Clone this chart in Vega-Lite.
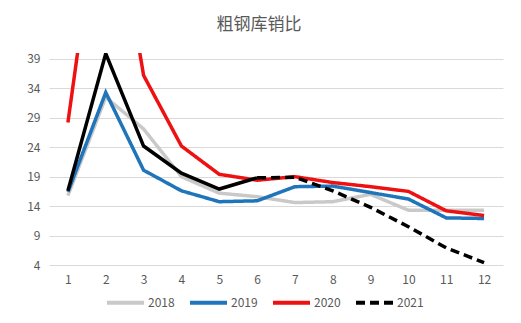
{
  "$schema": "https://vega.github.io/schema/vega-lite/v6.json",
  "width": 454,
  "height": 212,
  "autosize": {"type": "none"},
  "padding": {"left": 49, "top": 53, "right": 18, "bottom": 58},
  "background": "white",
  "title": {"text": "粗钢库销比", "anchor": "middle", "frame": "group", "dx": -17, "offset": 19, "fontSize": 17, "font": "Noto Sans CJK SC", "fontWeight": "normal", "color": "#595959"},
  "config": {"view": {"stroke": null}, "font": "Noto Sans CJK SC"},
  "data": {"values": [
    {"m": 1, "s": "2018", "v": 15.8}, {"m": 2, "s": "2018", "v": 32.5}, {"m": 3, "s": "2018", "v": 27.1}, {"m": 4, "s": "2018", "v": 19.0}, {"m": 5, "s": "2018", "v": 16.2}, {"m": 6, "s": "2018", "v": 15.6}, {"m": 7, "s": "2018", "v": 14.6}, {"m": 8, "s": "2018", "v": 14.75}, {"m": 9, "s": "2018", "v": 16.0}, {"m": 10, "s": "2018", "v": 13.3}, {"m": 11, "s": "2018", "v": 13.3}, {"m": 12, "s": "2018", "v": 13.3},
    {"m": 1, "s": "2019", "v": 16.4}, {"m": 2, "s": "2019", "v": 33.3}, {"m": 3, "s": "2019", "v": 20.1}, {"m": 4, "s": "2019", "v": 16.6}, {"m": 5, "s": "2019", "v": 14.75}, {"m": 6, "s": "2019", "v": 14.9}, {"m": 7, "s": "2019", "v": 17.3}, {"m": 8, "s": "2019", "v": 17.4}, {"m": 9, "s": "2019", "v": 16.3}, {"m": 10, "s": "2019", "v": 15.2}, {"m": 11, "s": "2019", "v": 12.0}, {"m": 12, "s": "2019", "v": 11.9},
    {"m": 1, "s": "2020", "v": 28.2}, {"m": 2, "s": "2020", "v": 74.5}, {"m": 3, "s": "2020", "v": 36.2}, {"m": 4, "s": "2020", "v": 24.2}, {"m": 5, "s": "2020", "v": 19.4}, {"m": 6, "s": "2020", "v": 18.4}, {"m": 7, "s": "2020", "v": 19.0}, {"m": 8, "s": "2020", "v": 18.0}, {"m": 9, "s": "2020", "v": 17.3}, {"m": 10, "s": "2020", "v": 16.5}, {"m": 11, "s": "2020", "v": 13.2}, {"m": 12, "s": "2020", "v": 12.4},
    {"m": 6, "s": "2021", "v": 18.8}, {"m": 7, "s": "2021", "v": 18.9}, {"m": 8, "s": "2021", "v": 16.6}, {"m": 9, "s": "2021", "v": 13.8}, {"m": 10, "s": "2021", "v": 10.5}, {"m": 11, "s": "2021", "v": 6.9}, {"m": 12, "s": "2021", "v": 4.4},
    {"m": 1, "s": "2021a", "v": 16.6}, {"m": 2, "s": "2021a", "v": 39.9}, {"m": 3, "s": "2021a", "v": 24.2}, {"m": 4, "s": "2021a", "v": 19.6}, {"m": 5, "s": "2021a", "v": 16.9}, {"m": 6, "s": "2021a", "v": 18.8}
  ]},
  "encoding": {
    "x": {"field": "m", "type": "ordinal", "scale": {"type": "point", "padding": 0.5},
      "axis": {"title": null, "labelAngle": 0, "domain": false, "ticks": false, "grid": false, "labelPadding": 9, "labelColor": "#595959", "labelFontSize": 12}},
    "y": {"field": "v", "type": "quantitative", "scale": {"domain": [4, 40], "nice": false, "zero": false},
      "axis": {"title": null, "values": [4, 9, 14, 19, 24, 29, 34, 39], "domain": false, "ticks": false, "labelPadding": 9, "labelColor": "#595959", "labelFontSize": 12, "gridColor": "#D9D9D9", "gridWidth": 1}}
  },
  "layer": [
    {
      "transform": [{"filter": "datum.s !== '2021a'"}],
      "mark": {"type": "line", "strokeWidth": 3.5, "clip": true, "strokeCap": "butt"},
      "encoding": {
        "color": {"field": "s", "type": "nominal", "scale": {"domain": ["2018", "2019", "2020", "2021"], "range": ["#C9C9C9", "#1F74BA", "#EE1111", "#000000"]},
          "legend": {"title": null, "orient": "none", "legendX": 56, "legendY": 229, "direction": "horizontal", "symbolType": "stroke", "symbolSize": 1369, "symbolStrokeWidth": 4, "labelFontSize": 12, "labelColor": "#595959", "columnPadding": 7, "labelOffset": 2}},
        "strokeDash": {"field": "s", "type": "nominal", "scale": {"domain": ["2018", "2019", "2020", "2021"], "range": [[1, 0], [1, 0], [1, 0], [9, 5]]},
          "legend": {"title": null, "orient": "none", "legendX": 56, "legendY": 229, "direction": "horizontal", "symbolType": "stroke", "symbolSize": 1369, "symbolStrokeWidth": 4, "labelFontSize": 12, "labelColor": "#595959", "columnPadding": 7, "labelOffset": 2}}
      }
    },
    {
      "transform": [{"filter": "datum.s === '2021a'"}],
      "mark": {"type": "line", "strokeWidth": 3.5, "clip": true, "color": "#000000"},
      "encoding": {}
    }
  ]
}
